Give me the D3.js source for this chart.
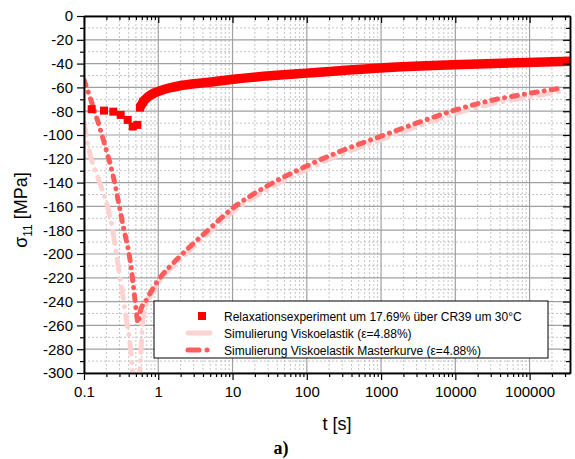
<!DOCTYPE html>
<html><head><meta charset="utf-8">
<script src="https://cdn.jsdelivr.net/npm/d3@7"></script>
<style>body{margin:0;background:#fff}svg{display:block}</style>
</head><body>
<script>
// ---- data ----
const xTickValues = [0.1, 1, 10, 100, 1000, 10000, 100000];
const xTickLabels = ["0.1", "1", "10", "100", "1000", "10000", "100000"];
const yTickValues = [0, -20, -40, -60, -80, -100, -120, -140, -160, -180, -200, -220, -240, -260, -280, -300];
const yTickLabels = ["0", "-20", "-40", "-60", "-80", "-100", "-120", "-140", "-160", "-180", "-200", "-220", "-240", "-260", "-280", "-300"];

// Relaxationsexperiment: early discrete squares
const expEarlyT = [0.127, 0.186, 0.248, 0.312, 0.387, 0.453, 0.522];
const expEarlyV = [-78.3, -79.5, -80.4, -83.1, -87.3, -92.9, -91.5];
// Relaxationsexperiment: dense part
const expT = [0.567, 0.629, 0.734, 0.89, 1.06, 1.4, 1.96, 3.0, 4.49, 10.3, 35.5, 99.5, 280, 971, 3350, 15800, 70000, 350000];
const expV = [-77, -72, -67.8, -64.6, -62.8, -60.5, -58.6, -57, -55.8, -53.1, -50, -48, -46, -43.6, -42, -40.6, -39.2, -38];

// Simulierung Viskoelastik (pink)
const viskoT = [0.1, 0.117, 0.164, 0.224, 0.29, 0.356, 0.439, 0.47, 0.54, 0.567, 0.628, 0.953, 1.96, 4.49, 10.3, 28.9, 100, 300, 1000, 3350, 10000, 30000, 100000, 258000];
const viskoV = [-90, -112.5, -140.5, -168.5, -210.5, -247, -289, -312, -312, -296, -252.5, -227, -205, -184, -164, -146, -129, -116, -104, -92, -82, -74, -68, -63.5];

// Simulierung Viskoelastik Masterkurve (dash-dot)
const masterT = [0.1, 0.12, 0.182, 0.248, 0.338, 0.417, 0.485, 0.522, 0.533, 0.567, 0.7, 0.953, 1.96, 4.49, 10.3, 28.9, 100, 300, 1000, 3350, 10000, 30000, 100000, 258000];
const masterV = [-53.7, -68, -104, -135, -177, -205, -238, -255, -258, -249, -238, -224, -202, -181, -161, -143, -126, -113, -101, -89, -79, -71, -65, -60.7];

const legendLabels = ["Relaxationsexperiment um 17.69% über CR39 um 30°C",
                      "Simulierung Viskoelastik (ε=4.88%)",
                      "Simulierung Viskoelastik Masterkurve (ε=4.88%)"];

// ---- layout ----
const W = 575, H = 459;
const L = 84, R = 570, T = 16, B = 373;
const FONT = "'Liberation Sans', Arial, sans-serif";

const svg = d3.select("body").append("svg").attr("width", W).attr("height", H);
const x = d3.scaleLog().domain([0.1, 350000]).range([L, R]);
const y = d3.scaleLinear().domain([-300, 0]).range([B, T]);

// minor tick values
const xMinor = [];
xTickValues.forEach(d => { for (let k = 2; k <= 9; k++) { const v = d * k; if (v <= 350000) xMinor.push(v); } });
const yMinor = d3.range(-290, 0, 20);

// ---- grid ----
const grid = svg.append("g");
grid.selectAll(".gxm").data(xMinor).join("line")
  .attr("x1", d => x(d)).attr("x2", d => x(d)).attr("y1", T).attr("y2", B)
  .attr("stroke", "#c4c4c4").attr("stroke-width", 1).attr("stroke-dasharray", "2,2");
grid.selectAll(".gym").data(yMinor).join("line")
  .attr("x1", L).attr("x2", R).attr("y1", d => y(d)).attr("y2", d => y(d))
  .attr("stroke", "#c4c4c4").attr("stroke-width", 1).attr("stroke-dasharray", "2,2");
grid.selectAll(".gxM").data(xTickValues).join("line")
  .attr("x1", d => x(d)).attr("x2", d => x(d)).attr("y1", T).attr("y2", B)
  .attr("stroke", "#a0a0a0").attr("stroke-width", 1.2);
grid.selectAll(".gyM").data(yTickValues).join("line")
  .attr("x1", L).attr("x2", R).attr("y1", d => y(d)).attr("y2", d => y(d))
  .attr("stroke", "#a0a0a0").attr("stroke-width", 1.2);

// ---- clip ----
svg.append("clipPath").attr("id", "clip").append("rect")
  .attr("x", L).attr("y", T).attr("width", R - L).attr("height", B - T);
const plot = svg.append("g").attr("clip-path", "url(#clip)");

const line = d3.line().x(d => x(d[0])).y(d => y(d[1])).curve(d3.curveMonotoneX);

// pink Viskoelastik
plot.append("path").datum(viskoT.map((t, i) => [t, viskoV[i]]))
  .attr("d", line).attr("fill", "none").attr("stroke", "#ffd2d2")
  .attr("stroke-width", 5).attr("stroke-linecap", "round").attr("stroke-dasharray", "12,8,0.1,8");

// Masterkurve
plot.append("path").datum(masterT.map((t, i) => [t, masterV[i]]))
  .attr("d", line).attr("fill", "none").attr("stroke", "#ff5c5c")
  .attr("stroke-width", 5).attr("stroke-linecap", "round").attr("stroke-dasharray", "6,7,0.1,7");

// Experiment
plot.append("path").datum(expT.map((t, i) => [t, expV[i]]))
  .attr("d", line).attr("fill", "none").attr("stroke", "#ff0000").attr("stroke-width", 9.5);
const sq = 8;
plot.selectAll(".sqE").data(expEarlyT.map((t, i) => [t, expEarlyV[i]]).concat([[expT[0], expV[0]], [expT[1], expV[1]]]))
  .join("rect")
  .attr("x", d => x(d[0]) - sq / 2).attr("y", d => y(d[1]) - sq / 2)
  .attr("width", sq).attr("height", sq).attr("fill", "#ff0000");

// ---- axes ----
function styleAxis(g) {
  g.selectAll("path").attr("stroke", "#000").attr("stroke-width", 1.5);
  g.selectAll("line").attr("stroke", "#000").attr("stroke-width", 1.2);
  g.selectAll("text").attr("font-family", FONT).attr("font-size", 15).attr("fill", "#000");
}
// left
svg.append("g").attr("transform", `translate(${L},0)`)
  .call(d3.axisLeft(y).tickValues(yTickValues).tickFormat((d, i) => yTickLabels[i]).tickSize(7).tickSizeOuter(0).tickPadding(4))
  .call(styleAxis);
svg.append("g").attr("transform", `translate(${L},0)`)
  .call(d3.axisLeft(y).tickValues(yMinor).tickFormat("").tickSize(4).tickSizeOuter(0)).call(styleAxis);
// right (inward)
svg.append("g").attr("transform", `translate(${R},0)`)
  .call(d3.axisLeft(y).tickValues(yTickValues).tickFormat("").tickSize(7).tickSizeOuter(0)).call(styleAxis);
svg.append("g").attr("transform", `translate(${R},0)`)
  .call(d3.axisLeft(y).tickValues(yMinor).tickFormat("").tickSize(4).tickSizeOuter(0)).call(styleAxis);
// bottom
svg.append("g").attr("transform", `translate(0,${B})`)
  .call(d3.axisBottom(x).tickValues(xTickValues).tickFormat((d, i) => xTickLabels[i]).tickSize(7).tickSizeOuter(0).tickPadding(6))
  .call(styleAxis);
svg.append("g").attr("transform", `translate(0,${B})`)
  .call(d3.axisBottom(x).tickValues(xMinor).tickFormat("").tickSize(4).tickSizeOuter(0)).call(styleAxis);
// top (inward)
svg.append("g").attr("transform", `translate(0,${T})`)
  .call(d3.axisBottom(x).tickValues(xTickValues).tickFormat("").tickSize(7).tickSizeOuter(0)).call(styleAxis);
svg.append("g").attr("transform", `translate(0,${T})`)
  .call(d3.axisBottom(x).tickValues(xMinor).tickFormat("").tickSize(4).tickSizeOuter(0)).call(styleAxis);

// ---- titles ----
svg.append("text").attr("x", 337).attr("y", 430).attr("text-anchor", "middle")
  .attr("font-family", FONT).attr("font-size", 18).text("t [s]");
const yt = svg.append("text").attr("transform", "translate(27,210) rotate(-90)").attr("text-anchor", "middle")
  .attr("font-family", FONT).attr("font-size", 18);
yt.append("tspan").text("σ");
yt.append("tspan").attr("font-size", 12).attr("dy", 5).text("11");
yt.append("tspan").attr("dy", -5).text(" [MPa]");
svg.append("text").attr("x", 281).attr("y", 454).attr("text-anchor", "middle")
  .attr("font-family", "'Liberation Serif', 'Times New Roman', serif").attr("font-weight", "bold")
  .attr("font-size", 18).text("a)");

// ---- legend ----
const lg = svg.append("g");
lg.append("rect").attr("x", 154).attr("y", 301).attr("width", 394).attr("height", 57)
  .attr("fill", "#fff").attr("stroke", "#000").attr("stroke-width", 1);
const rowY = [316, 333, 350];
lg.append("rect").attr("x", 198).attr("y", rowY[0] - 4).attr("width", 8).attr("height", 8).attr("fill", "#ff0000");
lg.append("line").attr("x1", 188).attr("x2", 210).attr("y1", rowY[1]).attr("y2", rowY[1])
  .attr("stroke", "#ffd2d2").attr("stroke-width", 5).attr("stroke-linecap", "round");
lg.append("line").attr("x1", 188).attr("x2", 211).attr("y1", rowY[2]).attr("y2", rowY[2])
  .attr("stroke", "#ff5c5c").attr("stroke-width", 5).attr("stroke-linecap", "round").attr("stroke-dasharray", "11,8,0.1,10");
lg.selectAll(".lt").data(legendLabels).join("text")
  .attr("x", 224).attr("y", (d, i) => rowY[i] + 4.5)
  .attr("font-family", FONT).attr("font-size", 12).attr("fill", "#000").text(d => d);
</script>
</body></html>
